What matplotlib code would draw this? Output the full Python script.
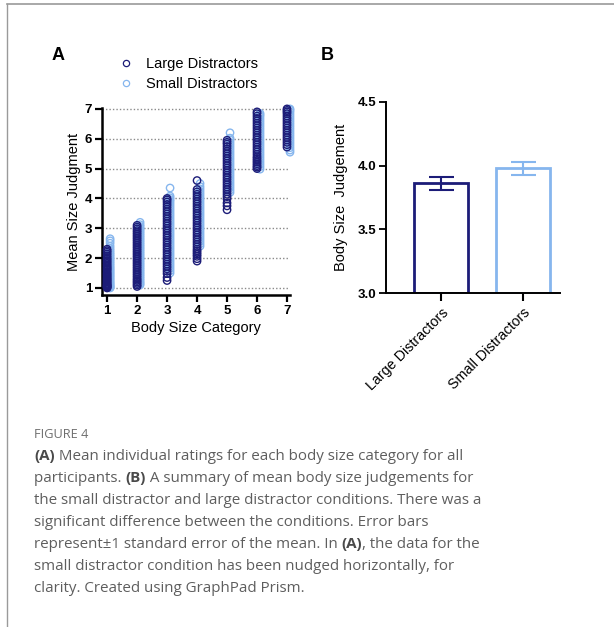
import matplotlib
matplotlib.use("Agg")
import matplotlib.pyplot as plt
from matplotlib.lines import Line2D

# ------- data
categories = [1, 2, 3, 4, 5, 6, 7]

large_vals = [
    [1.0, 1.02, 1.04, 1.06, 1.08, 1.1, 1.13, 1.16, 1.2, 1.23, 1.27, 1.3, 1.34, 1.38, 1.42, 1.46, 1.5,
     1.55, 1.6, 1.64, 1.68, 1.72, 1.77, 1.82, 1.87, 1.92, 1.97, 2.02, 2.08, 2.14, 2.2, 2.25, 2.3],
    [1.05, 1.1, 1.15, 1.2, 1.25, 1.3, 1.36, 1.42, 1.48, 1.54, 1.6, 1.66, 1.72, 1.78, 1.84, 1.9, 1.96,
     2.02, 2.08, 2.14, 2.2, 2.26, 2.32, 2.38, 2.44, 2.5, 2.56, 2.62, 2.68, 2.74, 2.8, 2.86, 2.92, 2.98,
     3.04, 3.1],
    [1.25, 1.35, 1.48, 1.56, 1.64, 1.72, 1.8, 1.88, 1.96, 2.04, 2.12, 2.2, 2.28, 2.36, 2.44, 2.52, 2.6,
     2.68, 2.76, 2.84, 2.92, 3.0, 3.08, 3.16, 3.24, 3.32, 3.4, 3.48, 3.56, 3.64, 3.72, 3.8, 3.88, 3.95,
     4.0],
    [1.9, 1.98, 2.06, 2.12, 2.18, 2.24, 2.3, 2.38, 2.46, 2.54, 2.62, 2.7, 2.78, 2.86, 2.94, 3.02, 3.1,
     3.18, 3.26, 3.34, 3.42, 3.5, 3.58, 3.66, 3.74, 3.82, 3.9, 3.98, 4.06, 4.14, 4.22, 4.3, 4.6],
    [3.62, 3.75, 3.85, 3.98, 4.06, 4.14, 4.22, 4.3, 4.38, 4.46, 4.54, 4.62, 4.7, 4.78, 4.86, 4.94, 5.02,
     5.1, 5.18, 5.26, 5.34, 5.42, 5.5, 5.58, 5.66, 5.74, 5.82, 5.88, 5.95],
    [5.0, 5.05, 5.1, 5.16, 5.22, 5.28, 5.34, 5.4, 5.48, 5.56, 5.64, 5.72, 5.8, 5.88, 5.96, 6.04, 6.12,
     6.2, 6.28, 6.36, 6.44, 6.52, 6.6, 6.68, 6.76, 6.84, 6.9],
    [5.72, 5.8, 5.88, 5.96, 6.04, 6.12, 6.2, 6.28, 6.36, 6.44, 6.52, 6.6, 6.68, 6.76, 6.84, 6.9, 6.95,
     7.0],
]
small_vals = [
    [1.0, 1.02, 1.05, 1.08, 1.12, 1.16, 1.2, 1.25, 1.3, 1.35, 1.4, 1.45, 1.5, 1.55, 1.6, 1.65, 1.7,
     1.76, 1.82, 1.88, 1.94, 2.0, 2.06, 2.12, 2.18, 2.25, 2.32, 2.4, 2.5, 2.58, 2.65],
    [1.1, 1.15, 1.2, 1.26, 1.32, 1.38, 1.44, 1.5, 1.56, 1.62, 1.68, 1.74, 1.8, 1.86, 1.92, 1.98, 2.04,
     2.1, 2.16, 2.22, 2.28, 2.34, 2.4, 2.46, 2.52, 2.58, 2.64, 2.7, 2.76, 2.82, 2.88, 2.94, 3.0, 3.06,
     3.12, 3.2],
    [1.5, 1.58, 1.66, 1.74, 1.82, 1.9, 1.98, 2.06, 2.14, 2.22, 2.3, 2.38, 2.46, 2.54, 2.62, 2.7, 2.78,
     2.86, 2.94, 3.02, 3.1, 3.18, 3.26, 3.34, 3.42, 3.5, 3.58, 3.66, 3.74, 3.82, 3.9, 3.96, 4.02, 4.08,
     4.35],
    [2.4, 2.48, 2.56, 2.64, 2.72, 2.8, 2.88, 2.96, 3.04, 3.12, 3.2, 3.28, 3.36, 3.44, 3.52, 3.6, 3.68,
     3.76, 3.84, 3.92, 4.0, 4.08, 4.16, 4.24, 4.32, 4.4, 4.5],
    [4.2, 4.28, 4.36, 4.44, 4.52, 4.6, 4.68, 4.76, 4.84, 4.92, 5.0, 5.08, 5.16, 5.24, 5.32, 5.4, 5.48,
     5.56, 5.64, 5.72, 5.8, 5.88, 5.96, 6.02, 6.2],
    [4.98, 5.06, 5.14, 5.22, 5.3, 5.38, 5.46, 5.54, 5.62, 5.7, 5.78, 5.86, 5.94, 6.02, 6.1, 6.18, 6.26,
     6.34, 6.42, 6.5, 6.58, 6.66, 6.74, 6.8, 6.85],
    [5.55, 5.62, 5.7, 5.78, 5.86, 5.94, 6.02, 6.1, 6.18, 6.26, 6.34, 6.42, 6.5, 6.58, 6.66, 6.74, 6.82,
     6.9, 6.96, 7.0],
]

groups = ["Large Distractors", "Small Distractors"]
means = [3.86, 3.98]
sems = [0.05, 0.05]

caption_title = "FIGURE 4"
caption_lines = [
    [("(A)", True), (" Mean individual ratings for each body size category for all", False)],
    [("participants. ", False), ("(B)", True), (" A summary of mean body size judgements for", False)],
    [("the small distractor and large distractor conditions. There was a", False)],
    [("significant difference between the conditions. Error bars", False)],
    [("represent\u00b11 standard error of the mean. In ", False), ("(A)", True), (", the data for the", False)],
    [("small distractor condition has been nudged horizontally, for", False)],
    [("clarity. Created using GraphPad Prism.", False)],
]

navy = "#1c1c78"
light = "#86b6ee"

plt.rcParams["font.family"] = ["Liberation Sans", "DejaVu Sans"]

W, H = 614, 627
fig = plt.figure(figsize=(W / 100, H / 100), dpi=100)


def fx(px):
    return px / W


def fy(py):
    return 1 - py / H


# ------- frame lines
fig.add_artist(Line2D([fx(7), 1], [fy(4), fy(4)], color="#9a9a9a", lw=1.2))
fig.add_artist(Line2D([fx(7), fx(7)], [fy(4), 0], color="#9a9a9a", lw=1.0))

# ------- PART A
axA = fig.add_axes([fx(102), fy(295), fx(290) - fx(102), fy(108) - fy(295)])
nudge = 0.1
for c, sv in zip(categories, small_vals):
    axA.scatter([c + nudge] * len(sv), sv, s=28, facecolors="none",
                edgecolors=light, linewidths=1.0, zorder=3, clip_on=False)
for c, lv in zip(categories, large_vals):
    axA.scatter([c] * len(lv), lv, s=28, facecolors="none",
                edgecolors=navy, linewidths=1.0, zorder=4, clip_on=False)

for yv in range(1, 8):
    axA.axhline(yv, color="#8a8a8a", lw=1.0, ls=(0, (1, 1.5)), zorder=1)

axA.set_xlim(0.83, 7.1)
axA.set_ylim(0.765, 7.03)
axA.set_xticks(categories)
axA.set_yticks(range(1, 8))
for sp in ["top", "right"]:
    axA.spines[sp].set_visible(False)
for sp in ["left", "bottom"]:
    axA.spines[sp].set_linewidth(1.8)
axA.tick_params(width=1.6, length=5, labelsize=9.5, pad=2)
for lab in axA.get_xticklabels() + axA.get_yticklabels():
    lab.set_fontweight("bold")
axA.set_xlabel("Body Size Category", fontsize=10.5, labelpad=3)
axA.set_ylabel("Mean Size Judgment", fontsize=10.5, labelpad=3)

legend_handles = [
    Line2D([], [], marker="o", ls="none", markersize=4.5, markerfacecolor="none",
           markeredgecolor=navy, markeredgewidth=0.9, label=groups[0]),
    Line2D([], [], marker="o", ls="none", markersize=4.5, markerfacecolor="none",
           markeredgecolor=light, markeredgewidth=0.9, label=groups[1]),
]
fig.legend(handles=legend_handles, loc="center left",
           bbox_to_anchor=(fx(110), fy(74)), frameon=False, fontsize=10.5,
           handletextpad=0.8, labelspacing=0.45, borderpad=0, handlelength=1.2)

fig.text(fx(58), fy(55), "A", fontsize=13, fontweight="bold", ha="center", va="center")

# ------- PART B
axB = fig.add_axes([fx(386), fy(293), fx(560) - fx(386), fy(102) - fy(293)])
xpos = [0, 1]
colors = [navy, light]
for x, m, e, col in zip(xpos, means, sems, colors):
    axB.bar(x, m - 3.0, bottom=3.0, width=0.66, facecolor="white",
            edgecolor=col, linewidth=2.0, zorder=2)
    axB.errorbar(x, m, yerr=e, color=col, capsize=9, elinewidth=1.5,
                 capthick=1.5, zorder=3)
axB.set_xlim(-0.671, 1.451)
axB.set_ylim(3.0, 4.5)
axB.set_yticks([3.0, 3.5, 4.0, 4.5])
axB.set_yticklabels(["3.0", "3.5", "4.0", "4.5"])
axB.set_xticks(xpos)
axB.set_xticklabels(groups, rotation=45, ha="right", va="top",
                    rotation_mode="anchor", fontsize=10.3)
for sp in ["top", "right"]:
    axB.spines[sp].set_visible(False)
for sp in ["left", "bottom"]:
    axB.spines[sp].set_linewidth(1.4)
axB.tick_params(axis="y", width=1.3, length=5, labelsize=9.5, pad=2)
axB.tick_params(axis="x", width=1.5, length=6, pad=3)
for lab in axB.get_yticklabels():
    lab.set_fontweight("bold")
axB.set_ylabel("Body Size  Judgement", fontsize=10.5, labelpad=7)

fig.text(fx(327), fy(55), "B", fontsize=13, fontweight="bold", ha="center", va="center")

# ------- caption
cap_font = ["Open Sans", "DejaVu Sans"]
fig.text(fx(34), fy(434), caption_title, fontsize=9.2, color="#6e6e6e",
         family=cap_font, va="center")

fig.canvas.draw()
renderer = fig.canvas.get_renderer()
y0 = 456
for i, parts in enumerate(caption_lines):
    xpix = 34
    ypix = y0 + i * 22
    for txt, bold in parts:
        t = fig.text(fx(xpix), fy(ypix), txt, fontsize=10.9,
                     color="#4a4a4a" if bold else "#5e5e5e",
                     fontweight="bold" if bold else "normal",
                     family=cap_font, va="center")
        bb = t.get_window_extent(renderer=renderer)
        xpix += bb.width

fig.savefig("out.png", dpi=100)
